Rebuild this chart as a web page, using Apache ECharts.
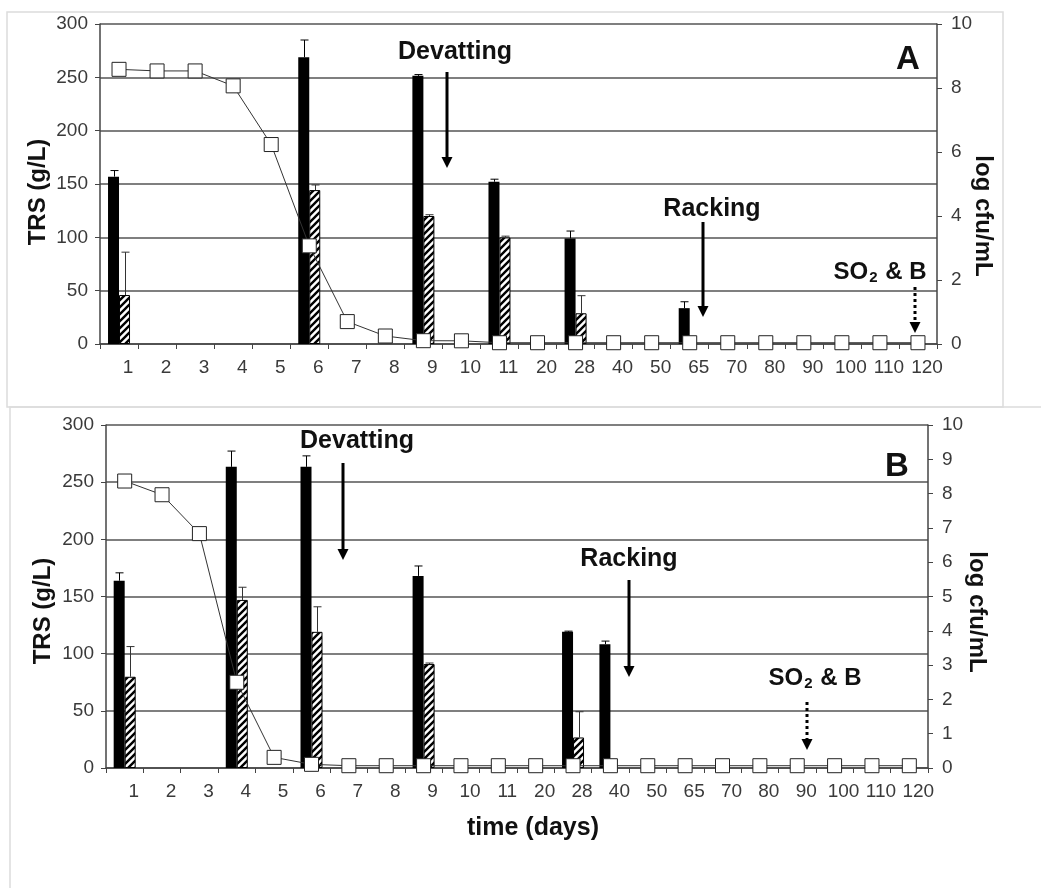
<!DOCTYPE html>
<html>
<head>
<meta charset="utf-8">
<script src="https://cdn.jsdelivr.net/npm/echarts@6/dist/echarts.min.js"></script>
<style>
  html, body { margin: 0; padding: 0; background: #fff; }
  #chart { width: 1041px; height: 888px; }
</style>
</head>
<body>
<div id="chart"></div>
<script>
// sampling days (category axis, same for both panels)
const days = ['1', '2', '3', '4', '5', '6', '7', '8', '9', '10', '11', '20', '28', '40', '50', '65', '70', '80', '90', '100', '110', '120'];

// panel A - TRS (g/L), left axis
const trsA = [257.5, 256, 256, 242, 187, 92, 21, 7.5, 3.1, 3, 1.2, 1.2, 1.2, 1.2, 1.2, 1.2, 1.2, 1.2, 1.2, 1.2, 1.2, 1.2];
// panel A - yeast counts (log cfu/mL), right axis
const blackA = [5.23, null, null, null, null, 8.96, null, null, 8.38, null, 5.07, null, 3.30, null, null, 1.12, null, null, null, null, null, null];
const blackErrA = [0.19, null, null, null, null, 0.54, null, null, 0.04, null, 0.08, null, 0.23, null, null, 0.20, null, null, null, null, null, null];
const hatchA = [1.53, null, null, null, null, 4.81, null, null, 4.0, null, 3.33, null, 0.96, null, null, null, null, null, null, null, null, null];
const hatchErrA = [1.34, null, null, null, null, 0.16, null, null, 0.04, null, 0.04, null, 0.55, null, null, null, null, null, null, null, null, null];

// panel B
const trsB = [251, 239, 205, 75, 9.3, 3.2, 2, 2, 2, 2, 2, 2, 2, 2, 2, 2, 2, 2, 2, 2, 2, 2];
const blackB = [5.46, null, null, 8.78, null, 8.78, null, null, 5.60, null, null, null, 3.97, 3.61, null, null, null, null, null, null, null, null];
const blackErrB = [0.23, null, null, 0.46, null, 0.32, null, null, 0.29, null, null, null, 0.02, 0.09, null, null, null, null, null, null, null, null];
const hatchB = [2.66, null, null, 4.90, null, 3.97, null, null, 3.03, null, null, null, 0.89, null, null, null, null, null, null, null, null, null];
const hatchErrB = [0.88, null, null, 0.37, null, 0.73, null, null, 0.03, null, null, null, 0.75, null, null, null, null, null, null, null, null, null];

const FONT = '"Liberation Sans", Arial, sans-serif';
const BW = 11;

// diagonal hatch tile
const tile = document.createElement('canvas');
tile.width = 7; tile.height = 7;
const ctx = tile.getContext('2d');
ctx.fillStyle = '#fff';
ctx.fillRect(0, 0, 7, 7);
ctx.strokeStyle = '#000';
ctx.lineWidth = 2.4;
ctx.beginPath();
ctx.moveTo(-1, 8); ctx.lineTo(8, -1);
ctx.moveTo(-4.5, 4.5); ctx.lineTo(4.5, -4.5);
ctx.moveTo(2.5, 11.5); ctx.lineTo(11.5, 2.5);
ctx.stroke();

function errData(vals, errs) {
  const out = [];
  vals.forEach((v, i) => { if (v != null && errs[i] != null) out.push([i, v + errs[i], v]); });
  return out;
}

function errSeries(idx, vals, errs, dx, color) {
  return {
    type: 'custom', xAxisIndex: idx, yAxisIndex: idx * 2 + 1, z: 3,
    data: errData(vals, errs),
    renderItem: function (params, api) {
      const top = api.coord([api.value(0), api.value(1)]);
      const base = api.coord([api.value(0), api.value(2)]);
      const x = Math.round(top[0] + dx) + 0.5;
      const st = { stroke: color, lineWidth: 1 };
      return {
        type: 'group', children: [
          { type: 'line', shape: { x1: x, y1: base[1], x2: x, y2: top[1] }, style: st },
          { type: 'line', shape: { x1: x - 4, y1: top[1], x2: x + 4, y2: top[1] }, style: st }
        ]
      };
    }
  };
}

function panelSeries(idx, trs, black, blackErr, hatch, hatchErr) {
  return [
    { type: 'bar', xAxisIndex: idx, yAxisIndex: idx * 2 + 1, data: black, barWidth: BW, barGap: '0%',
      itemStyle: { color: '#000' } },
    { type: 'bar', xAxisIndex: idx, yAxisIndex: idx * 2 + 1, data: hatch, barWidth: BW, barGap: '0%',
      itemStyle: { color: { image: tile, repeat: 'repeat' }, borderColor: '#000', borderWidth: 1 } },
    errSeries(idx, black, blackErr, -BW / 2, '#000'),
    errSeries(idx, hatch, hatchErr, BW / 2, '#333'),
    { type: 'line', xAxisIndex: idx, yAxisIndex: idx * 2, data: trs, z: 5,
      symbol: 'rect', symbolSize: 14, showSymbol: true,
      lineStyle: { color: '#333', width: 1 },
      itemStyle: { color: '#fff', borderColor: '#222', borderWidth: 1 } }
  ];
}

const labelStyle = { color: '#3a3a3a', fontFamily: FONT, fontSize: 19 };
const axisLine = { show: true, lineStyle: { color: '#444', width: 1.5 } };

function xAx(idx) {
  return {
    type: 'category', gridIndex: idx, data: days, boundaryGap: true,
    axisLine: axisLine,
    axisTick: { show: true, length: 5, lineStyle: { color: '#444' } },
    axisLabel: Object.assign({ interval: 0, margin: 14, padding: [0, 0, 0, 18] }, labelStyle),
    splitLine: { show: false }
  };
}

function yLeft(idx) {
  return {
    type: 'value', gridIndex: idx, position: 'left', min: 0, max: 300, interval: 50,
    axisLine: axisLine,
    axisTick: { show: true, length: 5, lineStyle: { color: '#444' } },
    axisLabel: Object.assign({ margin: 12 }, labelStyle),
    splitLine: { show: true, lineStyle: { color: '#555', width: 1.5 } }
  };
}

function yRight(idx, step) {
  return {
    type: 'value', gridIndex: idx, position: 'right', min: 0, max: 10, interval: step,
    axisLine: axisLine,
    axisTick: { show: true, length: 5, lineStyle: { color: '#444' } },
    axisLabel: Object.assign({ margin: 14 }, labelStyle),
    splitLine: { show: false }
  };
}

function boldText(x, y, text, size, rot) {
  return {
    type: 'text', x: x, y: y, rotation: rot || 0, z: 10,
    style: { text: text, font: 'bold ' + size + 'px ' + FONT, fill: '#111', align: 'center', verticalAlign: 'middle' }
  };
}

function so2(x, y) {
  return {
    type: 'text', x: x, y: y, z: 10,
    style: {
      text: '{a|SO}{s|2}{a| & B}', align: 'center', verticalAlign: 'middle',
      rich: {
        a: { font: 'bold 24px ' + FONT, fill: '#111', lineHeight: 26 },
        s: { font: 'bold 15px ' + FONT, fill: '#111', lineHeight: 26, padding: [12, 1, 0, 1] }
      }
    }
  };
}

function arrow(x, y1, y2, dashed) {
  return [
    { type: 'line', z: 10, shape: { x1: x, y1: y1, x2: x, y2: y2 - 9 },
      style: { stroke: '#000', lineWidth: 3, lineDash: dashed ? [3, 3] : null } },
    { type: 'polygon', z: 10, shape: { points: [[x - 5.5, y2 - 11], [x + 5.5, y2 - 11], [x, y2]] },
      style: { fill: '#000' } }
  ];
}

const chart = echarts.init(document.getElementById('chart'));
chart.setOption({
  animation: false,
  backgroundColor: '#fff',
  grid: [
    { left: 100, right: 104, top: 24, height: 320 },
    { left: 106, right: 113, top: 425, height: 343 }
  ],
  xAxis: [xAx(0), xAx(1)],
  yAxis: [yLeft(0), yRight(0, 2), yLeft(1), yRight(1, 1)],
  series: [].concat(
    panelSeries(0, trsA, blackA, blackErrA, hatchA, hatchErrA),
    panelSeries(1, trsB, blackB, blackErrB, hatchB, hatchErrB)
  ),
  graphic: [].concat(
    [
      { type: 'rect', shape: { x: 7, y: 12, width: 996, height: 395 }, style: { fill: 'none', stroke: '#dcdcdc', lineWidth: 1.5 }, z: -1 },
      { type: 'rect', shape: { x: 10, y: 407, width: 1040, height: 500 }, style: { fill: 'none', stroke: '#dcdcdc', lineWidth: 1.5 }, z: -1 },
      boldText(908, 60, 'A', 33),
      boldText(455, 52, 'Devatting', 25),
      boldText(712, 209, 'Racking', 25),
      so2(880, 272),
      boldText(38, 192, 'TRS (g/L)', 24, Math.PI / 2),
      boldText(983, 216, 'log cfu/mL', 24, -Math.PI / 2),
      boldText(897, 467, 'B', 33),
      boldText(357, 441, 'Devatting', 25),
      boldText(629, 559, 'Racking', 25),
      so2(815, 678),
      boldText(43, 611, 'TRS (g/L)', 24, Math.PI / 2),
      boldText(977, 612, 'log cfu/mL', 24, -Math.PI / 2),
      boldText(533, 828, 'time (days)', 25)
    ],
    arrow(447, 72, 168, false),
    arrow(703, 222, 317, false),
    arrow(915, 287, 333, true),
    arrow(343, 463, 560, false),
    arrow(629, 580, 677, false),
    arrow(807, 702, 750, true)
  )
});
</script>
</body>
</html>
